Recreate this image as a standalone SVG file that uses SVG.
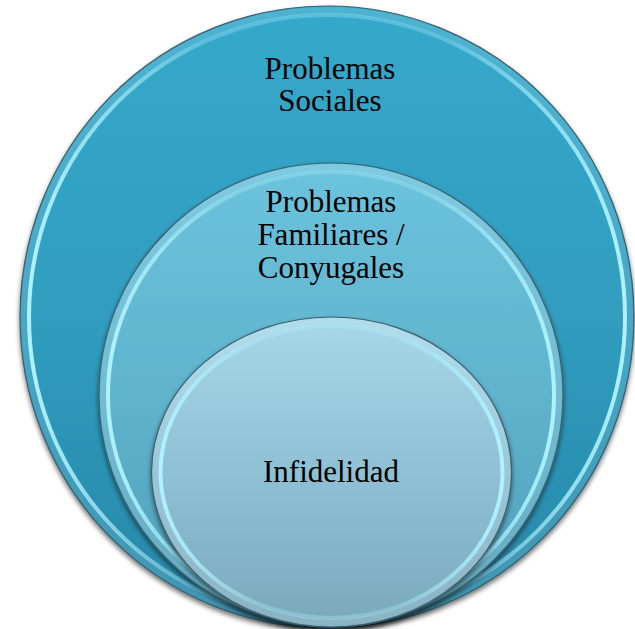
<svg xmlns="http://www.w3.org/2000/svg" width="635" height="629" viewBox="0 0 635 629">
  <defs>
    <linearGradient id="gOuter" x1="0" y1="0" x2="0" y2="1">
      <stop offset="0" stop-color="#36a9cb"/>
      <stop offset="0.5" stop-color="#309dbf"/>
      <stop offset="1" stop-color="#2786a6"/>
    </linearGradient>
    <linearGradient id="gMiddle" x1="0" y1="0" x2="0" y2="1">
      <stop offset="0" stop-color="#6cc3dd"/>
      <stop offset="0.5" stop-color="#5fb3cd"/>
      <stop offset="1" stop-color="#4f9fb8"/>
    </linearGradient>
    <linearGradient id="gInner" x1="0" y1="0" x2="0" y2="1">
      <stop offset="0" stop-color="#a6d8ea"/>
      <stop offset="0.5" stop-color="#8fc0d3"/>
      <stop offset="1" stop-color="#7aa9bc"/>
    </linearGradient>
    <linearGradient id="gRim" x1="0" y1="0" x2="1" y2="0">
      <stop offset="0" stop-color="#aef2ff" stop-opacity="1"/>
      <stop offset="0.3" stop-color="#aef2ff" stop-opacity="0.3"/>
      <stop offset="0.7" stop-color="#aef2ff" stop-opacity="0.3"/>
      <stop offset="1" stop-color="#aef2ff" stop-opacity="1"/>
    </linearGradient>
    <filter id="shadow" x="-10%" y="-10%" width="120%" height="125%">
      <feGaussianBlur in="SourceAlpha" stdDeviation="2.5"/>
      <feOffset dx="0" dy="3" result="b"/>
      <feComponentTransfer><feFuncA type="linear" slope="0.55"/></feComponentTransfer>
      <feMerge><feMergeNode/><feMergeNode in="SourceGraphic"/></feMerge>
    </filter>
  </defs>
  <style>
    .edge { stroke: #3e5f6b; stroke-width: 1.2; }
    .rim { fill: none; stroke: url(#gRim); stroke-width: 4; }
    .band { fill: none; stroke: #ffffff; stroke-opacity: 0.12; stroke-width: 7; }
    .lbl { font-family: "Liberation Serif", "Times New Roman", serif; font-size: 31px; fill: #000000; text-anchor: middle; }
  </style>
  <rect width="635" height="629" fill="#ffffff"/>
  <g id="node-outer">
    <ellipse cx="327" cy="317" rx="307" ry="311" fill="url(#gOuter)" class="edge" filter="url(#shadow)"/>
    <ellipse cx="327" cy="317" rx="302.5" ry="306.5" class="band"/>
    <ellipse cx="327" cy="317" rx="298" ry="302" class="rim"/>
    <text class="lbl" x="330" y="79">Problemas</text>
    <text class="lbl" x="330" y="111">Sociales</text>
  </g>
  <g id="node-middle">
    <ellipse cx="331" cy="395" rx="232" ry="232" fill="url(#gMiddle)" class="edge" filter="url(#shadow)"/>
    <ellipse cx="331" cy="395" rx="227.5" ry="227.5" class="band"/>
    <ellipse cx="331" cy="395" rx="223" ry="223" class="rim"/>
    <text class="lbl" x="331" y="212">Problemas</text>
    <text class="lbl" x="331" y="245">Familiares /</text>
    <text class="lbl" x="331" y="278">Conyugales</text>
  </g>
  <g id="node-inner">
    <ellipse cx="331.5" cy="472" rx="180" ry="155" fill="url(#gInner)" class="edge" filter="url(#shadow)"/>
    <ellipse cx="331.5" cy="472" rx="175.5" ry="150.5" class="band"/>
    <ellipse cx="331.5" cy="472" rx="171" ry="146" class="rim"/>
    <text class="lbl" x="331" y="482">Infidelidad</text>
  </g>
  <g id="connectors"/>
</svg>
